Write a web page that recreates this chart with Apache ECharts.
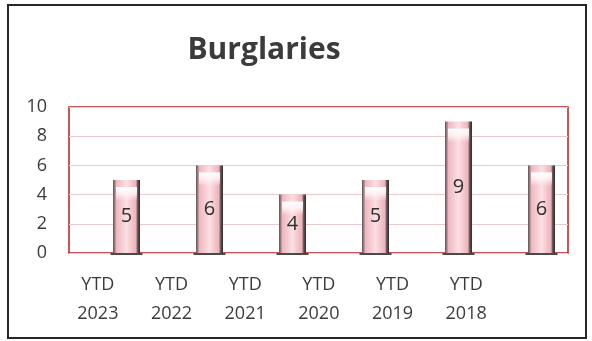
<!DOCTYPE html>
<html>
<head>
<meta charset="utf-8">
<style>
  html, body { margin: 0; padding: 0; background: #ffffff; }
  #chart { width: 592px; height: 341px; }
</style>
<script src="https://cdn.jsdelivr.net/npm/echarts@6/dist/echarts.min.js"></script>
</head>
<body>
<div id="chart"></div>
<script>
// Year-to-date burglary counts
const categories = ['YTD\n2023', 'YTD\n2022', 'YTD\n2021', 'YTD\n2020', 'YTD\n2019', 'YTD\n2018'];
const burglaries = [5, 6, 4, 5, 9, 6];
const yTicks = [0, 2, 4, 6, 8, 10];

const chart = echarts.init(document.getElementById('chart'), null, { renderer: 'canvas' });

const FONT = '"Open Sans", sans-serif';
const PLOT_TOP = 107;
const PLOT_H = 146;

const yBase = {
  type: 'value',
  min: yTicks[0],
  max: yTicks[yTicks.length - 1],
  interval: yTicks[1] - yTicks[0]
};

const cylinderFill = new echarts.graphic.LinearGradient(0, 0, 1, 0, [
  { offset: 0, color: '#555555' },
  { offset: 0.07, color: '#a58287' },
  { offset: 0.13, color: '#efb8c0' },
  { offset: 0.5, color: '#fbdfe3' },
  { offset: 0.85, color: '#eeb2bb' },
  { offset: 0.91, color: '#6a5759' },
  { offset: 1, color: '#2a2a2a' }
]);

// soft white fade at the open top of each cylinder
const capFill = new echarts.graphic.LinearGradient(0, 0, 0, 1, [
  { offset: 0, color: 'rgba(255,255,255,1)' },
  { offset: 0.5, color: 'rgba(255,250,251,0.75)' },
  { offset: 1, color: 'rgba(255,240,243,0)' }
]);

chart.setOption({
  animation: false,
  title: {
    text: 'Burglaries',
    left: 259,
    textAlign: 'center',
    top: 30,
    textStyle: { fontFamily: FONT, fontSize: 30, fontWeight: 'bold', color: '#3b3b3b' }
  },
  graphic: [
    {
      type: 'rect',
      shape: { x: 8, y: 5, width: 578, height: 333 },
      style: { fill: 'none', stroke: '#262626', lineWidth: 2 },
      silent: true
    }
  ],
  grid: [
    { left: 69, top: PLOT_TOP, width: 499, height: PLOT_H, show: true,
      borderColor: '#b81c24', borderWidth: 1.5, backgroundColor: 'transparent' },
    { left: 85, top: PLOT_TOP, width: 498, height: PLOT_H },
    { left: 61, top: PLOT_TOP, width: 442, height: PLOT_H }
  ],
  xAxis: [
    { type: 'category', gridIndex: 0, data: categories, show: false },
    { type: 'category', gridIndex: 1, data: categories, show: false },
    {
      type: 'category', gridIndex: 2, data: categories,
      axisLine: { show: false }, axisTick: { show: false },
      axisLabel: { margin: 17, fontFamily: FONT, fontSize: 18, lineHeight: 29, color: '#3b3b3b' }
    }
  ],
  yAxis: [
    Object.assign({}, yBase, {
      gridIndex: 0,
      axisLine: { show: false }, axisTick: { show: false },
      axisLabel: { margin: 22, fontFamily: FONT, fontSize: 18, color: '#3b3b3b' },
      splitLine: { show: true, lineStyle: { color: '#e9c9cc', width: 1 } }
    }),
    Object.assign({}, yBase, { gridIndex: 1, show: false, splitLine: { show: false } }),
    Object.assign({}, yBase, { gridIndex: 2, show: false, splitLine: { show: false } })
  ],
  series: [
    {
      type: 'bar',
      xAxisIndex: 1, yAxisIndex: 1,
      data: burglaries,
      barWidth: 27,
      itemStyle: { color: cylinderFill },
      label: {
        show: true, position: 'inside',
        fontFamily: FONT, fontSize: 20, color: '#2f2f2f'
      },
      z: 3
    },
    {
      // open top of each cylinder
      type: 'pictorialBar',
      xAxisIndex: 1, yAxisIndex: 1,
      data: burglaries,
      symbol: 'rect',
      symbolSize: [21, 14],
      symbolPosition: 'end',
      symbolOffset: [0, '50%'],
      itemStyle: { color: capFill },
      z: 4
    },
    {
      // dark base under each cylinder
      type: 'pictorialBar',
      xAxisIndex: 1, yAxisIndex: 1,
      data: burglaries,
      symbol: 'rect',
      symbolSize: [32, 2],
      symbolPosition: 'start',
      symbolOffset: [0, '100%'],
      itemStyle: { color: '#4a4a4a' },
      z: 4
    }
  ]
});
</script>
</body>
</html>
